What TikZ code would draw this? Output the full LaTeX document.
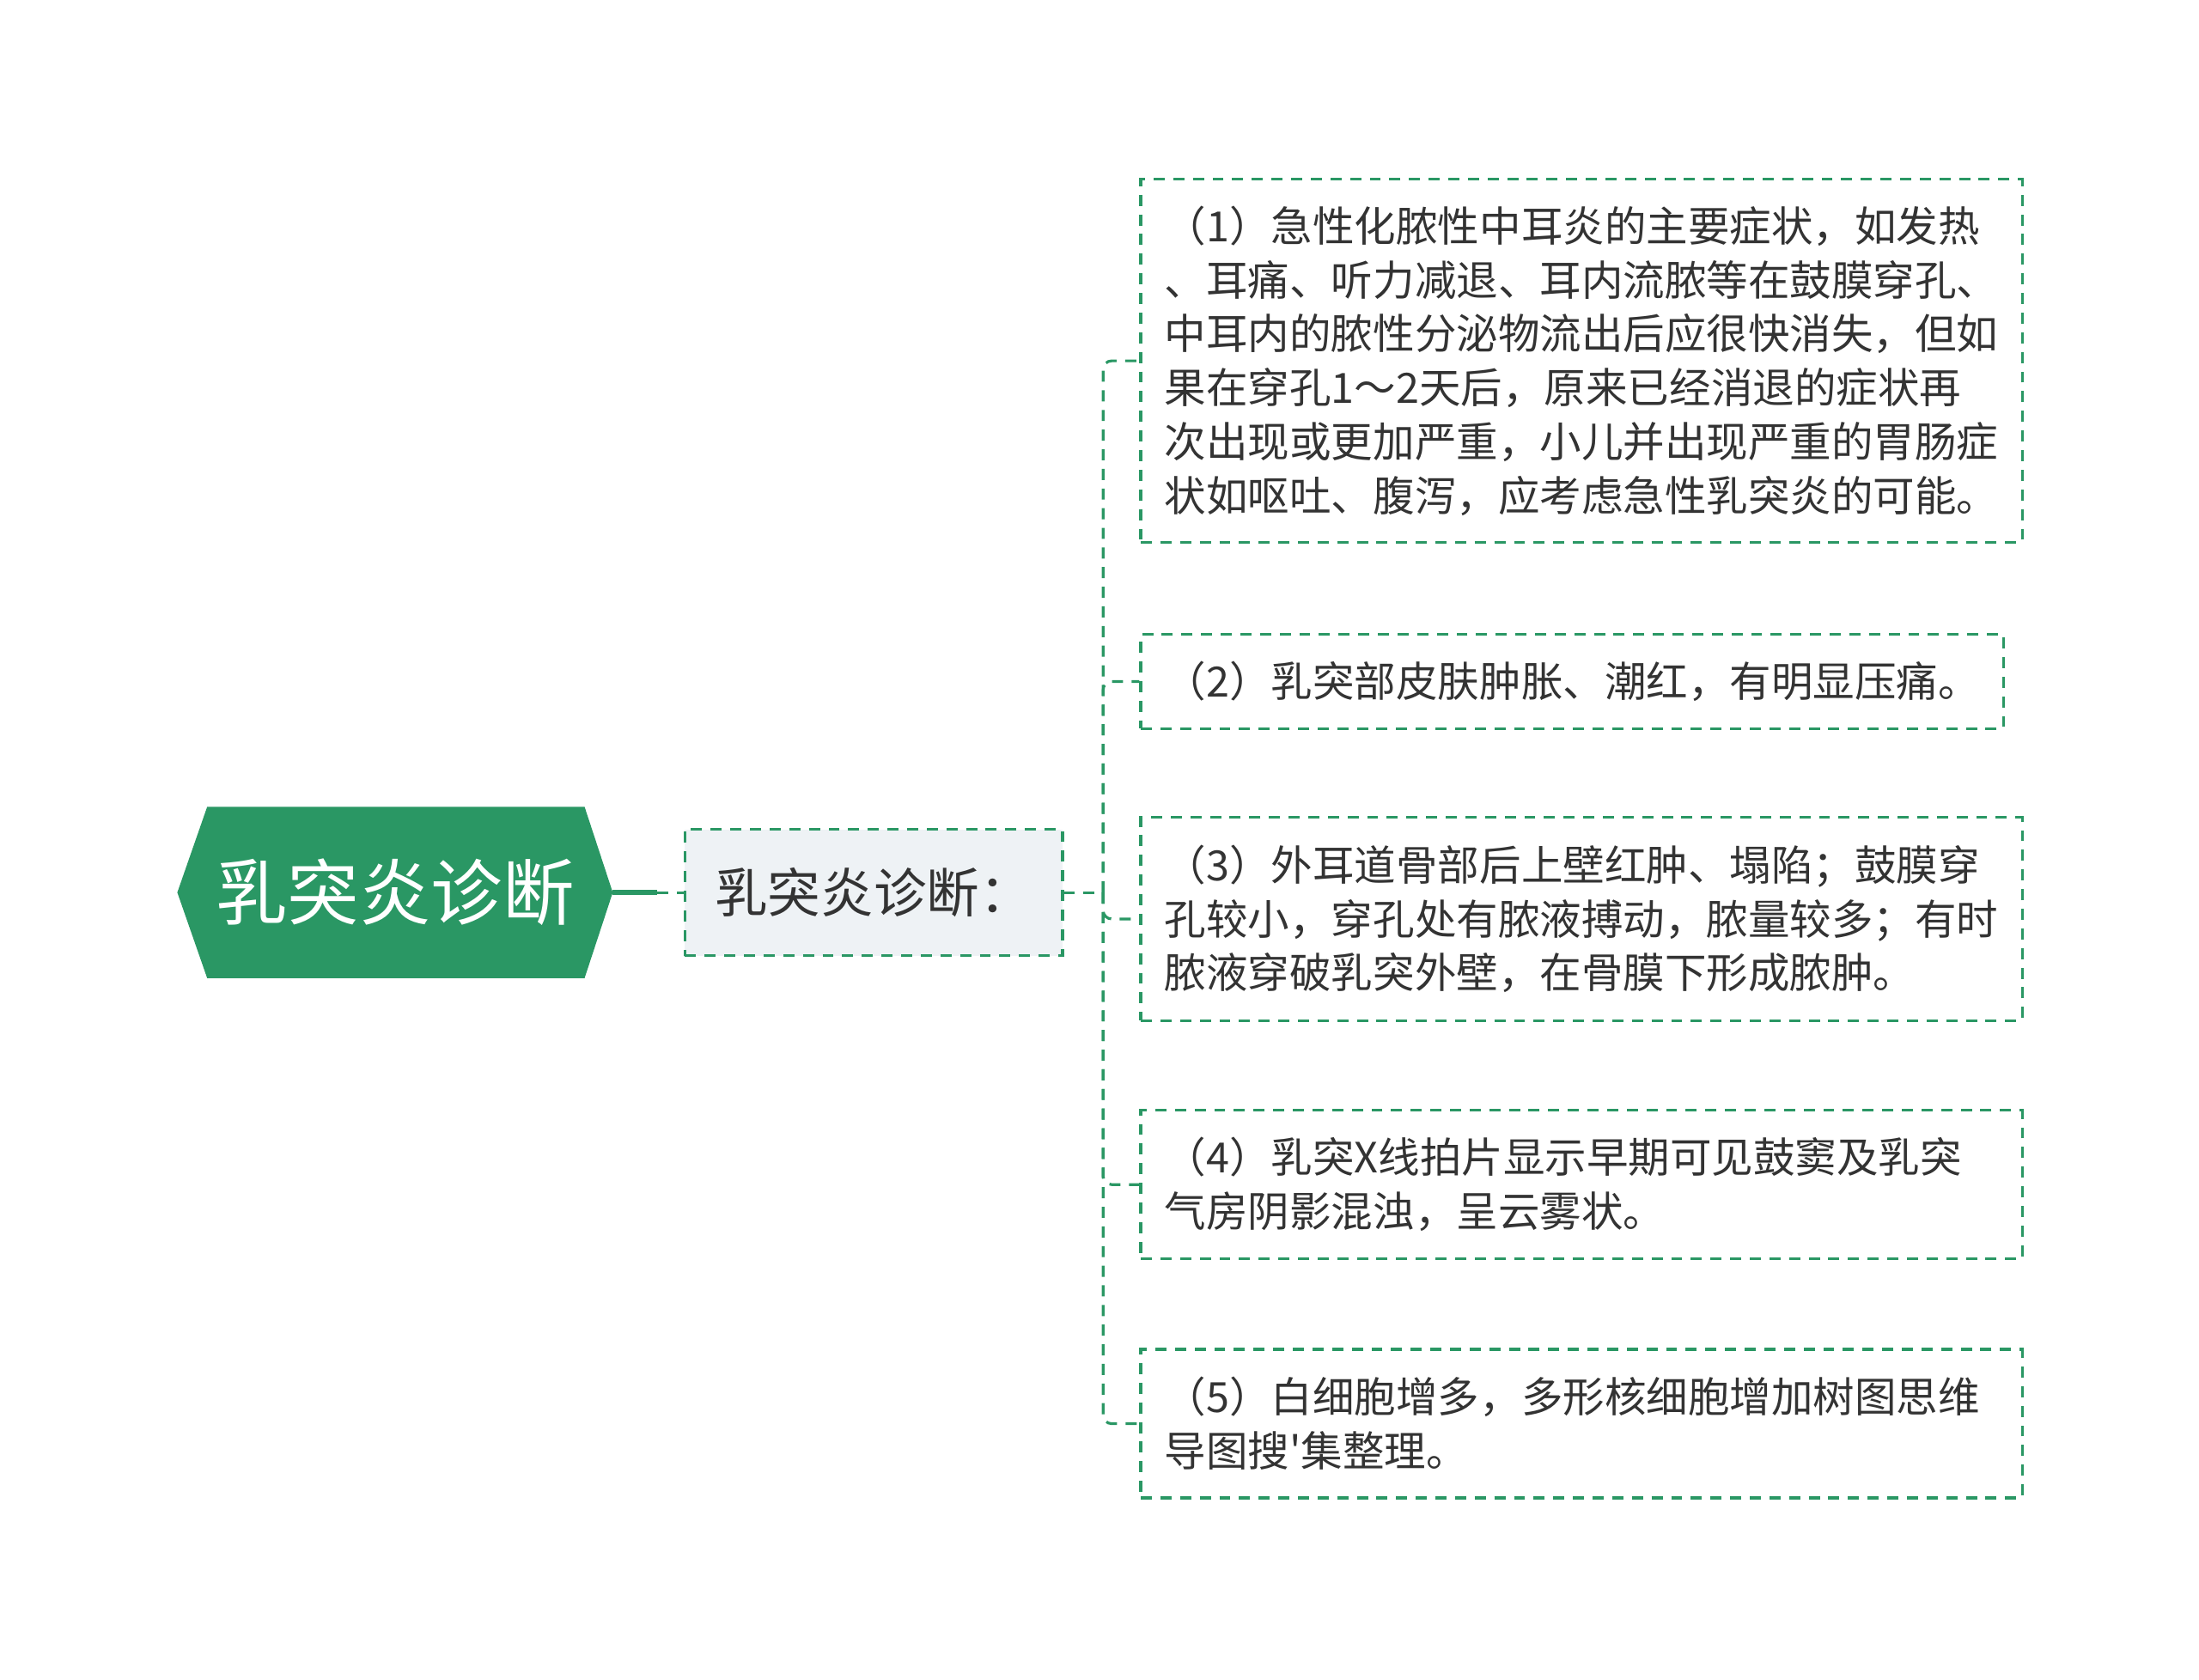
\documentclass[tikz,border=0pt]{standalone}
\usepackage{fontspec}
\setmainfont{Noto Sans CJK SC}
\newfontfamily\plainfont{Noto Sans CJK SC}
\usetikzlibrary{backgrounds}

\definecolor{mindgreen}{HTML}{2A9764}
\definecolor{topicgray}{HTML}{EEF2F5}
\definecolor{inktext}{HTML}{333333}

\begin{document}
\begin{tikzpicture}[x=0.5pt, y=-0.5pt]
\tikzstyle{root} = [text=white, minimum width=254.5pt, minimum height=100pt, inner sep=0pt,
                    font=\fontsize{42}{50}\selectfont]
\tikzstyle{link} = [draw=mindgreen, line width=1.6pt, dash pattern=on 6.5pt off 5pt]
\tikzstyle{topic} = [rectangle, link, fill=topicgray, text=inktext, minimum width=221pt,
                     minimum height=74pt, inner sep=0pt, font=\fontsize{31}{38}\selectfont]
\tikzstyle{leaf} = [rectangle, link, fill=white, text=inktext, align=left, anchor=west,
                    inner xsep=14pt, font=\fontsize{24.4}{31.6}\selectfont]
\tikzstyle{wide} = [text width=488pt]

\useasboundingbox (0,0) rectangle (2574.6,1966.2);

% central topic
\node[root] (root) at (462.5,1045) {乳突炎诊断};
\begin{scope}[on background layer]
\fill[mindgreen] (root.west) -- ([xshift=17.5pt]root.north west) -- ([xshift=-16.5pt]root.north east)
  -- (root.east) -- ([xshift=-16.5pt]root.south east) -- ([xshift=17.5pt]root.south west) -- cycle;
\end{scope}

\node[topic] (parent) at (1023,1045) {乳突炎诊断：};

% leaves
\node[leaf, wide, minimum height=212.5pt] (leaf1) at (1334,422.5)
  {（1）急性化脓性中耳炎的主要症状，如发热\\、耳痛、听力减退、耳内流脓等在鼓膜穿孔、\\中耳内的脓性分泌物流出后应很快消失，但如\\果在穿孔1～2天后，原来已经消退的症状再\\次出现或更加严重，小儿并出现严重的胃肠症\\状如呕吐、腹泻，应考虑急性乳突炎的可能。};
\node[leaf, minimum height=55pt] (leaf2) at (1334,798)
  {（2）乳突部皮肤肿胀、潮红，有明显压痛。};
\node[leaf, wide, minimum height=119pt] (leaf3) at (1334,1076)
  {（3）外耳道骨部后上壁红肿、塌陷；鼓膜穿\\孔较小，穿孔处有脓液搏动，脓量较多；有时\\脓液穿破乳突外壁，在骨膜下形成脓肿。};
\node[leaf, wide, minimum height=87pt] (leaf4) at (1334,1387)
  {（4）乳突X线拍片显示早期可见鼓窦及乳突\\气房阴影混浊，呈云雾状。};
\node[leaf, wide, minimum height=87pt] (leaf5) at (1334,1667)
  {（5）白细胞增多，多形核细胞增加树图思维\\导图搜{\plainfont'}集整理。};

% connectors
\path (root.east) -- (parent.west) coordinate[pos=0.63] (mid);
\draw[mindgreen, line width=3pt] (root.east) -- (mid);
\draw[link] (mid) -- (parent.west);
\coordinate (fork) at (1291.5,1045);
\draw[link] (parent.east) -- (fork);
\foreach \n in {1,...,5}
  \draw[link, rounded corners=5pt] (fork) |- (leaf\n.west);
\end{tikzpicture}
\end{document}
